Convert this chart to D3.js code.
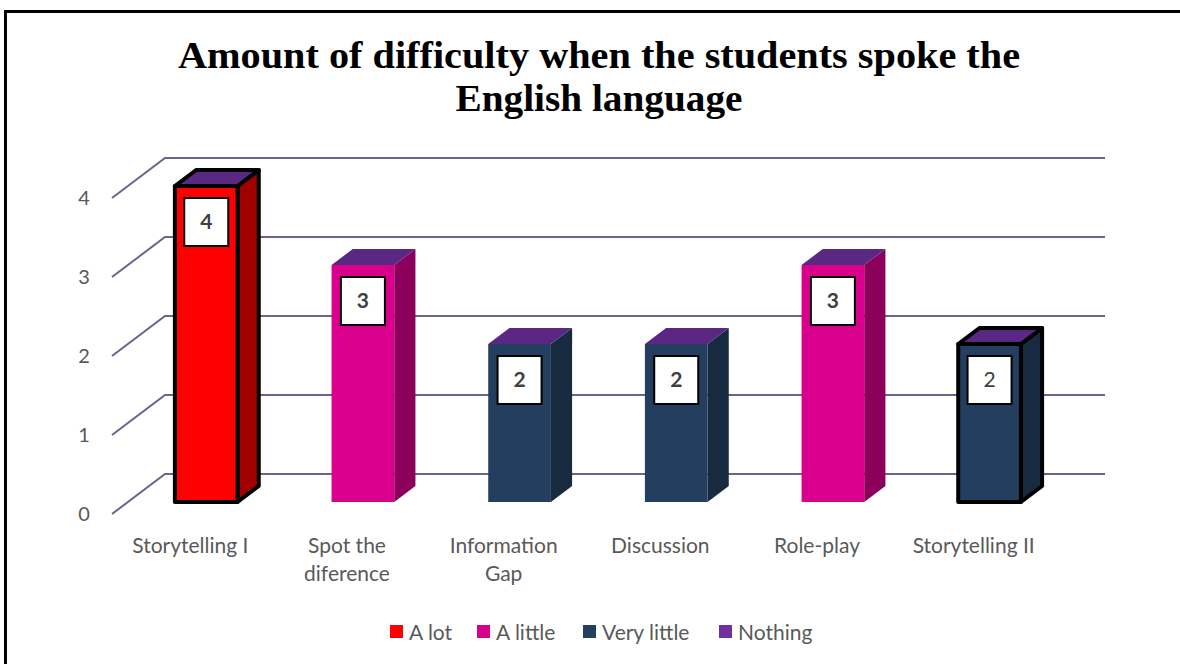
<!DOCTYPE html>
<html>
<head>
<meta charset="utf-8">
<script src="https://cdn.jsdelivr.net/npm/d3@7/dist/d3.min.js"></script>
<style>
  html, body { margin: 0; padding: 0; background: #fff; }
  svg { display: block; }
</style>
</head>
<body>
<svg id="chart" width="1180" height="664"></svg>
<script>
// Activities (each label may wrap onto two lines)
const categories = [
  ["Storytelling I"],
  ["Spot the", "diference"],
  ["Information", "Gap"],
  ["Discussion"],
  ["Role-play"],
  ["Storytelling II"]
];

// Stacked series, one value per activity
const seriesNames = ["A lot", "A little", "Very little", "Nothing"];
const aLot       = [4, 0, 0, 0, 0, 0];
const aLittle    = [0, 3, 0, 0, 3, 0];
const veryLittle = [0, 0, 2, 2, 0, 2];
const nothing    = [0, 0, 0, 0, 0, 0];

const yTicks = [0, 1, 2, 3, 4];

// Activities whose columns carry a heavy outline
const outlined = [true, false, false, false, false, true];

const seriesValues = [aLot, aLittle, veryLittle, nothing];
const colors = {
  "A lot":       { front: "#FF0000", side: "#A00000", legend: "#FF0000" },
  "A little":    { front: "#DA008E", side: "#8A005A", legend: "#D6008F" },
  "Very little": { front: "#243E60", side: "#172A40", legend: "#243F60" },
  "Nothing":     { front: "#7030A0", side: "#4A1F6C", legend: "#7030A0" }
};
const topColor = "#5A2882";

const svg = d3.select("#chart");
const sans = "Lato, 'Open Sans', sans-serif";

// outer frame
svg.append("rect")
  .attr("x", 5.5).attr("y", 11.5).attr("width", 1250).attr("height", 700)
  .attr("fill", "none").attr("stroke", "#000").attr("stroke-width", 3);

// title
const title = svg.append("text")
  .attr("text-anchor", "middle")
  .attr("font-family", "'Liberation Serif', 'DejaVu Serif', serif")
  .attr("font-weight", "bold")
  .attr("font-size", 38)
  .attr("fill", "#000");
title.append("tspan").attr("x", 599).attr("y", 68)
  .attr("textLength", 842).attr("lengthAdjust", "spacingAndGlyphs")
  .text("Amount of difficulty when the students spoke the");
title.append("tspan").attr("x", 599).attr("y", 111)
  .attr("textLength", 287).attr("lengthAdjust", "spacingAndGlyphs")
  .text("English language");

// 3-D projection: front plane and full depth offset
const depthDX = 53, depthDY = -40;
const x = d3.scaleBand().domain(d3.range(categories.length)).range([112, 1052]).padding(0);
const y = d3.scaleLinear().domain([0, 4]).range([514, 198]);

// project a (screen-x, screen-y) on the front plane to a given depth fraction
const proj = (px, py, d) => [px + depthDX * d, py + depthDY * d];

const gridColor = "#70608F";
const grid = svg.append("g").attr("stroke", gridColor).attr("stroke-width", 2).attr("fill", "none");
yTicks.forEach(t => {
  const [x0, y0] = [x.range()[0], y(t)];
  const [bx, by] = proj(x0, y0, 1);
  const [ex, ey] = proj(x.range()[1], y0, 1);
  grid.append("path").attr("d", `M${x0},${y0}L${bx},${by}L${ex},${ey}`);
});

// y-axis labels
svg.append("g").selectAll("text").data(yTicks).join("text")
  .attr("x", 84).attr("y", d => y(d) + 7)
  .attr("text-anchor", "middle")
  .attr("font-family", sans)
  .attr("font-size", 20).attr("fill", "#595959")
  .text(d => d);

// columns
const dFront = 0.3, dBack = 0.7;
const bw = x.bandwidth();
const barsG = svg.append("g");
const labels = [];

categories.forEach((cat, i) => {
  const bx0 = x(i) + bw * 0.3;
  const bx1 = x(i) + bw * 0.7;
  let cum = 0;
  const g = barsG.append("g");
  const strokeAttr = outlined[i]
    ? { stroke: "#000", "stroke-width": 4, "stroke-linejoin": "round" }
    : { stroke: "none" };
  seriesValues.forEach((vals, s) => {
    const v = vals[i];
    if (v <= 0) return;
    const yb = y(cum), yt = y(cum + v);
    cum += v;
    const c = colors[seriesNames[s]];
    const fb = proj(bx0, yb, dFront), ft = proj(bx0, yt, dFront);
    const fbr = proj(bx1, yb, dFront), ftr = proj(bx1, yt, dFront);
    const sbr = proj(bx1, yb, dBack), str = proj(bx1, yt, dBack);
    // side face
    const side = g.append("path")
      .attr("d", `M${fbr}L${sbr}L${str}L${ftr}Z`)
      .attr("fill", c.side);
    // front face
    const front = g.append("path")
      .attr("d", `M${fb}L${fbr}L${ftr}L${ft}Z`)
      .attr("fill", c.front);
    [side, front].forEach(p => Object.entries(strokeAttr).forEach(([k, val]) => p.attr(k, val)));
  });
  // top cap (zero-height "Nothing" segment)
  const yt = y(cum);
  const a = proj(bx0, yt, dFront), b = proj(bx1, yt, dFront);
  const cpt = proj(bx1, yt, dBack), dpt = proj(bx0, yt, dBack);
  const top = g.append("path")
    .attr("d", `M${a}L${b}L${cpt}L${dpt}Z`)
    .attr("fill", topColor);
  Object.entries(strokeAttr).forEach(([k, val]) => top.attr(k, val));

  const fc = proj((bx0 + bx1) / 2, yt, dFront);
  labels.push({ i, value: cum, cx: fc[0], cy: fc[1] + 36, bold: i !== categories.length - 1 });
});

// value labels in white boxes
const lg = svg.append("g");
labels.forEach(l => {
  lg.append("rect")
    .attr("x", l.cx - 22).attr("y", l.cy - 24)
    .attr("width", 44).attr("height", 48)
    .attr("fill", "#fff").attr("stroke", "#000").attr("stroke-width", 2);
  lg.append("text")
    .attr("x", l.cx).attr("y", l.cy + 7)
    .attr("text-anchor", "middle")
    .attr("font-family", sans)
    .attr("font-weight", l.bold ? "bold" : "normal")
    .attr("font-size", 21).attr("fill", "#404040")
    .text(l.value);
});

// category labels
const xl = svg.append("g")
  .attr("font-family", sans)
  .attr("font-size", 21).attr("fill", "#595959")
  .attr("text-anchor", "middle");
categories.forEach((lines, i) => {
  const t = xl.append("text");
  lines.forEach((ln, k) => {
    t.append("tspan").attr("x", x(i) + bw / 2).attr("y", 553 + k * 28).text(ln);
  });
});

// legend
const legendX = [390, 477, 583, 719];
const lgd = svg.append("g")
  .attr("font-family", sans)
  .attr("font-size", 21).attr("fill", "#595959");
seriesNames.forEach((name, s) => {
  lgd.append("rect").attr("x", legendX[s]).attr("y", 625)
    .attr("width", 13).attr("height", 13).attr("fill", colors[name].legend);
  lgd.append("text").attr("x", legendX[s] + 19).attr("y", 640).text(name);
});
</script>
</body>
</html>
